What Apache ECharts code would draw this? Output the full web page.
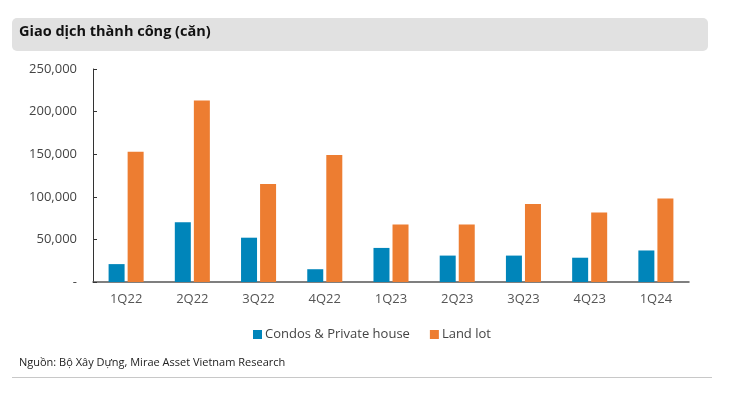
<!DOCTYPE html>
<html><head><meta charset="utf-8">
<script src="https://cdn.jsdelivr.net/npm/echarts@6/dist/echarts.min.js"></script>
<style>html,body{margin:0;padding:0;background:#fff}#c{width:749px;height:400px}</style>
</head><body><div id="c"></div>
<script>
const categories = ['1Q22','2Q22','3Q22','4Q22','1Q23','2Q23','3Q23','4Q23','1Q24'];
const condos = [21000, 70000, 52000, 15000, 40000, 31000, 31000, 28500, 37000];
const landLot = [153000, 213000, 115000, 149000, 67500, 67500, 91500, 81500, 98000];
const yTicks = { min: 0, max: 250000, interval: 50000 };
const seriesNames = ['Condos & Private house', 'Land lot'];
const titleText = 'Giao dịch thành công (căn)';
const sourceText = 'Nguồn: Bộ Xây Dựng, Mirae Asset Vietnam Research';

const chart = echarts.init(document.getElementById('c'), null, {renderer: 'canvas'});
const font = '"Open Sans", "Noto Sans", sans-serif';
chart.setOption({
  animation: false,
  textStyle: { fontFamily: font },
  graphic: [
    { type: 'rect', shape: { x: 12, y: 18, width: 696, height: 33, r: 5 }, style: { fill: '#e1e1e1' } },
    { type: 'text', left: 19, top: 24, style: { text: titleText, font: 'bold 14.5px ' + font, fill: '#111' } },
    { type: 'text', left: 19, top: 357, style: { text: sourceText, font: '11px ' + font, fill: '#222' } },
    { type: 'line', shape: { x1: 12, y1: 377.5, x2: 712, y2: 377.5 }, style: { stroke: '#c8c8c8', lineWidth: 1 } }
  ],
  legend: {
    data: seriesNames,
    top: 323,
    left: 248,
    itemWidth: 9, itemHeight: 9, itemGap: 20,
    icon: 'rect',
    textStyle: { fontSize: 13, color: '#444', fontFamily: font, padding: [0, 0, 0, -2] }
  },
  grid: { left: 93, right: 60, top: 69, bottom: 118 },
  xAxis: {
    type: 'category',
    data: categories,
    axisLine: { lineStyle: { color: '#555', width: 1.5 } },
    axisTick: { inside: true, length: 4, lineStyle: { color: '#333' } },
    axisLabel: { fontSize: 13, color: '#555', margin: 11, fontFamily: font }
  },
  yAxis: {
    type: 'value',
    min: yTicks.min, max: yTicks.max, interval: yTicks.interval,
    splitLine: { show: false },
    axisLine: { show: true, lineStyle: { color: '#333', width: 1 } },
    axisTick: { show: true, inside: true, length: 4, lineStyle: { color: '#333' } },
    axisLabel: {
      fontSize: 13, color: '#444', margin: 16, fontFamily: font,
      formatter: v => v === 0 ? '-' : v.toLocaleString('en-US')
    }
  },
  series: [
    { name: seriesNames[0], type: 'bar', data: condos, barWidth: 16, barGap: '19%', itemStyle: { color: '#0085BA' } },
    { name: seriesNames[1], type: 'bar', data: landLot, barWidth: 16, itemStyle: { color: '#ED7D31' } }
  ]
});
</script></body></html>
